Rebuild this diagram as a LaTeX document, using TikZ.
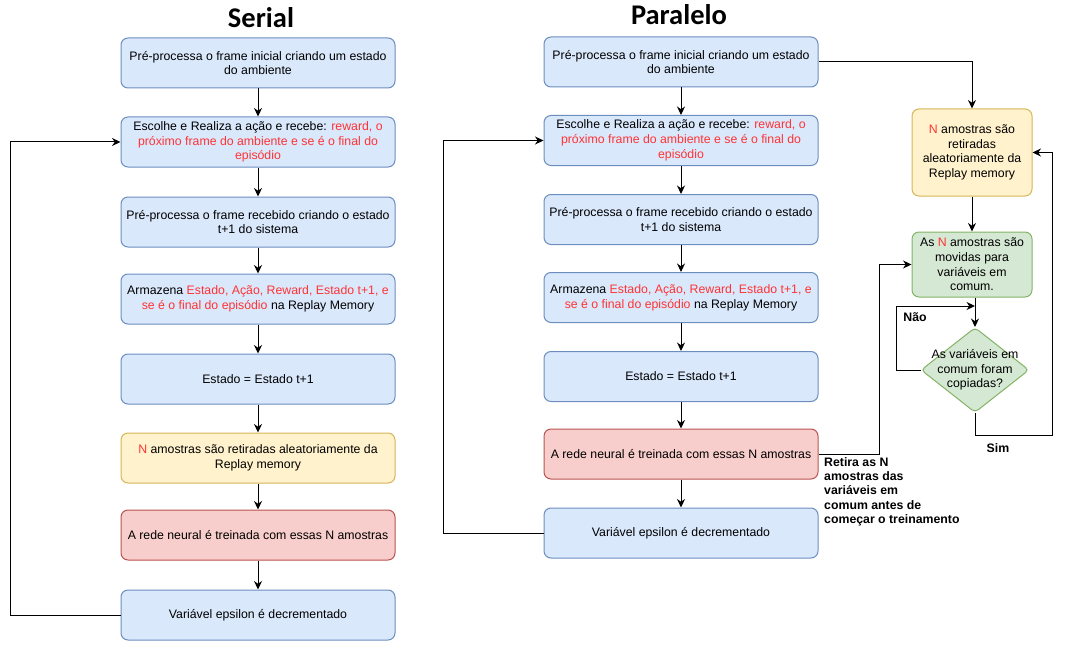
\documentclass[tikz,border=0pt]{standalone}
\usepackage{fontspec}
\setmainfont{Liberation Sans}
\newfontfamily\titlefont{Carlito}
\usetikzlibrary{arrows.meta, shapes.geometric}
\definecolor{azulfundo}{HTML}{DAE8FC}
\definecolor{azulborda}{HTML}{6C8EBF}
\definecolor{amarelofundo}{HTML}{FFF2CC}
\definecolor{amareloborda}{HTML}{D6B656}
\definecolor{rosafundo}{HTML}{F8CECC}
\definecolor{rosaborda}{HTML}{B85450}
\definecolor{verdefundo}{HTML}{D5E8D4}
\definecolor{verdeborda}{HTML}{82B366}
\definecolor{vermelho}{HTML}{FF3333}
\newcommand{\destaque}[1]{\textcolor{vermelho}{#1}}
\begin{document}
\begin{tikzpicture}[x = 1pt, y = -1pt,
        every node/.style = {font = \fontsize{12.3}{14.7}\selectfont},
        caixa/.style = {draw, rounded corners = 7pt, line width = 1pt, align = center, inner sep = 1pt,
            minimum width = 274pt, minimum height = 50pt},
        azul/.style = {caixa, draw = azulborda, fill = azulfundo},
        amarelo/.style = {caixa, draw = amareloborda, fill = amarelofundo},
        rosa/.style = {caixa, draw = rosaborda, fill = rosafundo},
        verde/.style = {caixa, draw = verdeborda, fill = verdefundo},
        lateral/.style = {minimum width = 120pt},
        losango/.style = {diamond, draw = verdeborda, fill = verdefundo, line width = 1pt, rounded corners = 4pt,
            inner sep = 0pt, minimum width = 108pt, minimum height = 85pt},
        seta/.style = {line width = 1pt, -{Stealth[length = 8.5pt, width = 8pt]}},
        rotulo/.style = {font = \fontsize{12.3}{14.3}\selectfont\bfseries},
        titulo/.style = {font = \titlefont\bfseries\fontsize{28.5}{30}\selectfont, anchor = base}]
    \useasboundingbox (0,0) rectangle (1073,666);

    \node[titulo] (tserial) at (261,28) {Serial};
    \node[titulo] (tparalelo) at (679,25) {Paralelo};

    \node[azul] (s1) at (258,63) {Pré-processa o frame inicial criando um estado\\do ambiente};
    \node[azul] (s2) at (258,142) {Escolhe e Realiza a ação e recebe: \destaque{reward, o}\\\destaque{próximo frame do ambiente e se é o final do}\\\destaque{episódio}};
    \node[azul] (s3) at (258,222) {Pré-processa o frame recebido criando o estado\\t+1 do sistema};
    \node[azul] (s4) at (258,299) {Armazena \destaque{Estado, Ação, Reward, Estado t+1, e}\\\destaque{se é o final do episódio} na Replay Memory};
    \node[azul] (s5) at (258,379) {Estado = Estado t+1};
    \node[amarelo] (s6) at (258,458) {\destaque{N} amostras são retiradas aleatoriamente da\\Replay memory};
    \node[rosa] (s7) at (258,535) {A rede neural é treinada com essas N amostras};
    \node[azul] (s8) at (258,615) {Variável epsilon é decrementado};

    \foreach \a/\b in {s1/s2, s2/s3, s3/s4, s4/s5, s5/s6, s6/s7, s7/s8} {
        \draw[seta] (\a) -- (\b);
    }
    \draw[seta] (s8.west) -- ++(-110,0) |- (s2.west);

    \begin{scope}[every node/.append style = {minimum height = 49pt, minimum width = 275pt}]
        \node[azul] (p1) at (681,62) {Pré-processa o frame inicial criando um estado\\do ambiente};
        \node[azul] (p2) at (681,140.5) {Escolhe e Realiza a ação e recebe: \destaque{reward, o}\\\destaque{próximo frame do ambiente e se é o final do}\\\destaque{episódio}};
        \node[azul] (p3) at (681,219.5) {Pré-processa o frame recebido criando o estado\\t+1 do sistema};
        \node[azul] (p4) at (681,297.5) {Armazena \destaque{Estado, Ação, Reward, Estado t+1, e}\\\destaque{se é o final do episódio} na Replay Memory};
        \node[azul] (p5) at (681,376.5) {Estado = Estado t+1};
        \node[rosa] (p6) at (681,454) {A rede neural é treinada com essas N amostras};
        \node[azul] (p7) at (681,533) {Variável epsilon é decrementado};
    \end{scope}

    \foreach \a/\b in {p1/p2, p2/p3, p3/p4, p4/p5, p5/p6, p6/p7} {
        \draw[seta] (\a) -- (\b);
    }
    \draw[seta] (p7.west) -- ++(-100,0) |- (p2.west);

    \node[amarelo, lateral, minimum height = 87pt] (q) at (972,152.5) {\destaque{N} amostras são\\retiradas\\aleatoriamente da\\Replay memory};
    \node[verde, lateral, minimum height = 65pt] (g) at (972,264.5) {As \destaque{N} amostras são\\movidas para\\variáveis em\\comum.};
    \node[losango, label = {[align = center]center:As variáveis em\\comum foram\\copiadas?}] (dia) at (975,370) {};
    \coordinate (nao) at (975,306);

    \draw[seta] (p1.east) -| (q.north);
    \draw[seta] (q) -- (g);
    \draw[seta] (g.south -| dia.north) -- (dia.north);
    \draw[seta] (dia.west) -- ++(-24,0) |- (nao);
    \draw[seta] (dia.south) -- ++(0,22) -| ([xshift = 20pt]q.east) -- (q.east);
    \draw[seta] (p6.east) -- ++(61,0) |- (g.west);

    \node[rotulo] (lnao) at (915,317) {Não};
    \node[rotulo] (lsim) at (998,448) {Sim};
    \node[rotulo, align = left, anchor = north west, inner sep = 0pt] (lretira) at (824,457) {Retira as N\\amostras das\\variáveis em\\comum antes de\\começar o treinamento};
\end{tikzpicture}
\end{document}
